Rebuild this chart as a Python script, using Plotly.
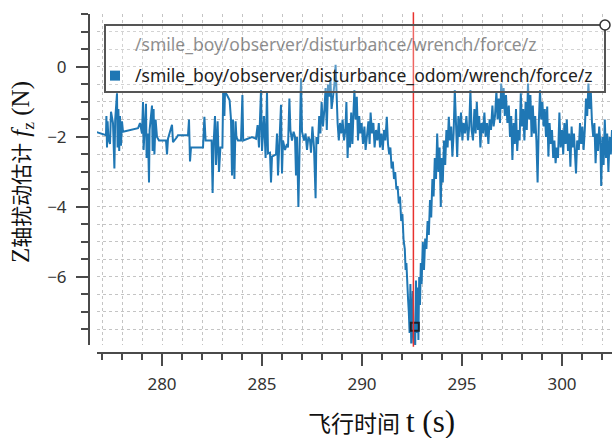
import plotly.graph_objects as go

# ---------------- data ----------------
t = [276.65, 276.66, 276.68, 277.20, 277.22, 277.25, 277.28, 277.32, 277.40, 277.45,
     277.50, 277.55, 277.62, 277.66, 277.75, 277.78, 277.82, 277.86, 277.90, 277.95,
     278.00, 278.05, 278.80, 278.90, 279.00, 279.05, 279.08, 279.12, 279.20, 279.23,
     279.30, 279.35, 279.38, 279.50, 279.53, 279.58, 279.62, 279.68, 279.75, 279.85,
     280.20, 280.25, 280.30, 280.50, 280.55, 280.75, 280.80, 281.30, 281.35, 281.40,
     281.45, 282.05, 282.12, 282.18, 282.48, 282.53, 282.58, 282.65, 282.70, 282.78,
     282.85, 282.92, 283.02, 283.06, 283.12, 283.15, 283.25, 283.38, 283.45, 283.50,
     283.55, 283.62, 283.68, 283.72, 283.80, 283.95, 284.02, 284.06, 284.50, 284.70,
     284.78, 284.85, 284.95, 285.00, 285.10, 285.18, 285.25, 285.30, 285.40, 285.45,
     285.50, 285.70, 285.75, 285.80, 285.85, 285.95, 286.00, 286.05, 286.15, 286.25,
     286.30, 286.37, 286.42, 286.50, 286.58, 286.65, 286.70, 286.75, 286.82, 286.88,
     286.95, 287.00, 287.10, 287.18, 287.25, 287.32, 287.40, 287.45, 287.52, 287.60,
     287.68, 287.72, 287.80, 287.86, 287.92, 287.98, 288.05, 288.12, 288.18, 288.24,
     288.30, 288.36, 288.42, 288.48, 288.55, 288.62, 288.68, 288.72, 288.78, 288.84,
     288.90, 288.97, 289.03, 289.10, 289.17, 289.22, 289.28, 289.34, 289.40, 289.46,
     289.52, 289.58, 289.62, 289.68, 289.74, 289.80, 289.86, 289.92, 289.98, 290.05,
     290.12, 290.18, 290.25, 290.32, 290.38, 290.43, 290.50, 290.57, 290.63, 290.70,
     290.77, 290.84, 290.90, 290.97, 291.04, 291.10, 291.17, 291.24, 291.30, 291.36,
     291.42, 291.48, 291.54, 291.60, 291.66, 291.72, 291.78, 291.84, 291.90, 291.96,
     292.02, 292.08, 292.14, 292.18, 292.22, 292.26, 292.30, 292.34, 292.38, 292.42,
     292.46, 292.50, 292.54, 292.58, 292.62, 292.66, 292.70, 292.74, 292.78, 292.82,
     292.86, 292.90, 292.94, 292.98, 293.04, 293.10, 293.16, 293.22, 293.28, 293.34,
     293.40, 293.46, 293.52, 293.58, 293.64, 293.70, 293.76, 293.82, 293.88, 293.94,
     293.98, 294.04, 294.10, 294.16, 294.22, 294.28, 294.34, 294.40, 294.46, 294.52,
     294.58, 294.64, 294.70, 294.76, 294.82, 294.88, 294.95, 295.02, 295.08, 295.15,
     295.22, 295.30, 295.36, 295.42, 295.48, 295.55, 295.62, 295.68, 295.74, 295.80,
     295.86, 295.92, 295.98, 296.05, 296.12, 296.18, 296.25, 296.32, 296.38, 296.45,
     296.52, 296.58, 296.65, 296.72, 296.78, 296.84, 296.90, 296.96, 297.02, 297.08,
     297.14, 297.20, 297.27, 297.34, 297.40, 297.46, 297.52, 297.58, 297.64, 297.70,
     297.76, 297.82, 297.88, 297.94, 298.00, 298.06, 298.12, 298.18, 298.24, 298.30,
     298.36, 298.42, 298.48, 298.54, 298.60, 298.66, 298.72, 298.78, 298.84, 298.90,
     298.96, 299.02, 299.08, 299.14, 299.20, 299.26, 299.32, 299.38, 299.44, 299.50,
     299.56, 299.62, 299.68, 299.74, 299.80, 299.87, 299.93, 300.00, 300.06, 300.12,
     300.18, 300.24, 300.30, 300.36, 300.42, 300.48, 300.54, 300.60, 300.66, 300.70,
     300.76, 300.84, 300.90, 300.96, 301.02, 301.08, 301.14, 301.20, 301.26, 301.32,
     301.38, 301.44, 301.50, 301.56, 301.62, 301.68, 301.74, 301.80, 301.86, 301.92,
     301.96, 302.02, 302.08, 302.14, 302.20, 302.26, 302.32, 302.38, 302.44, 302.50,
     302.56]

fz = [-1.20, -2.80, -1.85, -1.95, -1.40, -2.30, -1.55, -2.05, -2.20, -1.28,
      -1.45, -1.60, -2.90, -1.50, -0.75, -2.30, -1.20, -2.40, -1.40, -2.25,
      -1.55, -1.85, -1.75, -1.60, -1.90, -1.00, -2.37, -1.75, -1.05, -2.60,
      -1.90, -3.30, -1.80, -1.10, -2.40, -1.20, -2.50, -1.50, -2.00, -2.10,
      -2.10, -2.50, -2.05, -1.65, -2.15, -2.00, -1.95, -1.95, -1.50, -2.70,
      -2.30, -2.30, -1.42, -2.10, -2.10, -3.60, -2.20, -1.40, -2.80, -1.55,
      -3.00, -2.30, -2.30, -0.70, -1.40, -0.72, -0.80, -0.95, -1.50, -3.10,
      -1.50, -3.20, -1.55, -2.00, -2.10, -2.10, -0.80, -2.10, -2.00, -2.05,
      -1.66, -2.30, -0.66, -2.40, -1.40, -2.60, -0.70, -2.47, -2.45, -3.30,
      -2.56, -2.50, -1.90, -3.10, -2.40, -1.08, -3.04, -2.10, -2.37, -2.20,
      -2.30, -0.90, -1.80, -2.10, -1.85, -2.00, -3.10, -2.00, -4.00, -2.30,
      -0.32, -1.85, -2.10, -1.90, -2.37, -2.00, -2.10, -2.45, -1.70, -2.30,
      -3.75, -2.00, -2.20, -1.40, -1.90, -1.00, -1.70, -1.20, -0.60, -1.80,
      -0.50, -0.85, -0.37, -1.20, -0.80, -0.50, 0.06, -0.80, -1.60, -2.10,
      -1.60, -1.90, -1.50, -2.10, -1.80, -1.00, -2.60, -1.60, -2.30, -1.30,
      -2.20, -1.20, -0.66, -1.50, -0.85, -2.10, -1.40, -1.90, -1.60, -2.20,
      -1.70, -2.37, -1.90, -1.55, -2.20, -1.30, -1.90, -1.60, -2.30, -1.80,
      -2.10, -1.60, -2.30, -1.90, -2.37, -1.80, -2.10, -1.42, -2.20, -2.50,
      -2.30, -2.90, -2.70, -3.20, -3.00, -3.50, -3.40, -3.90, -3.70, -4.40,
      -4.20, -4.95, -5.20, -5.80, -5.60, -6.40, -6.60, -7.00, -7.60, -6.20,
      -7.90, -7.40, -6.40, -7.90, -7.30, -8.00, -6.10, -7.60, -6.30, -7.80,
      -6.00, -6.80, -5.60, -6.20, -5.00, -5.80, -4.90, -5.20, -4.40, -4.80,
      -3.80, -4.30, -3.20, -3.70, -2.60, -3.20, -1.90, -3.00, -2.30, -4.00,
      -2.60, -3.30, -2.10, -2.80, -1.80, -2.30, -1.42, -2.10, -1.70, -2.56,
      -1.90, -0.66, -1.60, -2.57, -1.40, -2.00, -1.30, -2.10, -1.60, -1.90,
      -1.40, -2.10, -1.70, -0.66, -1.80, -2.10, -1.20, -1.90, -1.00, -1.80,
      -1.40, -2.30, -1.60, -1.90, -1.30, -2.00, -1.60, -2.20, -1.50, -1.80,
      -1.10, -1.70, -1.40, -0.70, -1.50, -0.90, -1.60, -0.47, -1.20, -0.60,
      -1.40, -0.80, -1.60, -1.10, -2.00, -1.40, -2.66, -1.60, -2.20, -1.20,
      -2.40, -1.80, -2.10, -0.75, -1.70, -1.20, -2.10, -1.00, -1.80, -0.47,
      -1.50, -0.80, -2.00, -1.10, -1.90, -1.40, -2.10, -3.30, -1.60, -0.66,
      -1.50, -1.00, -1.70, -1.20, -2.00, -1.13, -2.56, -1.60, -2.20, -1.80,
      -2.60, -2.10, -2.75, -2.30, -2.60, -1.30, -2.30, -1.80, -2.50, -1.60,
      -2.20, -1.50, -2.40, -1.90, -2.85, -1.70, -2.30, -1.90, -2.60, -3.04,
      -2.10, -2.37, -1.60, -2.20, -1.70, -2.37, -1.80, -0.90, -1.40, -0.47,
      -1.20, -0.70, -1.60, -2.00, -1.60, -2.75, -1.90, -2.40, -1.70, -2.20,
      -3.40, -2.00, -2.80, -1.50, -2.60, -1.90, -3.00, -2.00, -2.50, -1.80,
      -2.40]

series_names = ["/smile_boy/observer/disturbance/wrench/force/z",
                "/smile_boy/observer/disturbance_odom/wrench/force/z"]
x_tick_vals = [280, 285, 290, 295, 300]
y_tick_vals = [-6, -4, -2, 0]
cursor_t = [292.57]
cursor_point_t = [292.64]
cursor_point_fz = [-7.42]

# ---------------- layout helpers (pixel -> paper) ----------------
W, H = 612, 438
ML, MR, MT, MB = 89, 0, 14, 85
PW, PH = W - ML - MR, H - MT - MB


def px(x):
    return (x - ML) / PW


def py(y):
    return (H - MB - y) / PH


BLUE = "#1f77b4"
AX = "#4a4a4a"
GRID = "#c4c4c4"
TICKFONT = dict(family="Noto Sans, Open Sans, sans-serif", size=17, color="#333333")

fig = go.Figure()

fig.add_trace(go.Scatter(x=t, y=fz, mode="lines", line=dict(color=BLUE, width=2),
                         showlegend=False, hoverinfo="skip"))
# legend entries
fig.add_trace(go.Scatter(x=[None], y=[None], mode="markers", name=series_names[0],
                         legendgroup="a",
                         marker=dict(color="rgba(0,0,0,0)", size=10, symbol="square"),
                         visible="legendonly"))
fig.add_trace(go.Scatter(x=[None], y=[None], mode="markers", name=series_names[1],
                         legendgroup="b",
                         marker=dict(color=BLUE, size=10, symbol="square")))
# cursor point
fig.add_trace(go.Scatter(x=cursor_point_t, y=cursor_point_fz, mode="markers",
                         marker=dict(symbol="square-open", size=8, color="#16222e",
                                     line=dict(width=2, color="#16222e")),
                         showlegend=False))

fig.add_shape(type="line", xref="x", yref="y domain", x0=cursor_t[0], x1=cursor_t[0],
              y0=-0.005, y1=1.005, line=dict(color="#e8322e", width=1.5))

# legend frame and handle
fig.add_shape(type="rect", xref="paper", yref="paper", x0=px(105), x1=px(605),
              y0=py(92), y1=py(25), line=dict(color="#555555", width=2),
              fillcolor="rgba(255,255,255,0.25)", layer="above")
fig.add_shape(type="circle", xref="paper", yref="paper", x0=px(600), x1=px(610),
              y0=py(30), y1=py(20), line=dict(color="#333333", width=1.5),
              fillcolor="white", layer="above")

fig.add_annotation(text="<span style='font-size:23px'>飞行时间</span>&nbsp;<span style='font-size:31px'>t (s)</span>",
                   xref="paper", yref="paper", x=px(381), y=py(421), showarrow=False,
                   font=dict(family="Liberation Serif, Noto Sans CJK SC, serif", size=24, color="#111111"),
                   xanchor="center", yanchor="middle")
fig.add_annotation(text="<span style='font-size:25px'>Z</span><span style='font-size:21px'>轴扰动估计</span> "
                        "<span style='font-size:25px'><i>f</i><sub>z</sub> (N)</span>",
                   xref="paper", yref="paper", x=px(22), y=py(172), showarrow=False,
                   textangle=-90,
                   font=dict(family="Liberation Serif, Noto Sans CJK SC, serif", size=24, color="#111111"),
                   xanchor="center", yanchor="middle")

fig.update_layout(
    width=W, height=H,
    margin=dict(l=ML, r=MR, t=MT, b=MB, pad=0),
    paper_bgcolor="white", plot_bgcolor="white",
    showlegend=True,
    legend=dict(x=px(95), y=py(26), xanchor="left", yanchor="top",
                bgcolor="rgba(0,0,0,0)", borderwidth=0, traceorder="grouped",
                font=dict(family="Noto Sans, Open Sans, sans-serif", size=17.5, color="#222222"),
                tracegroupgap=6, itemclick=False),
    xaxis=dict(range=[276.75, 302.5], domain=[8 / PW, 1], anchor="free", position=0,
               tickvals=x_tick_vals, ticks="outside", ticklen=12, tickwidth=2, tickcolor=AX,
               showline=True, linecolor=AX, linewidth=2, zeroline=False,
               showgrid=True, gridcolor=GRID, griddash="dot", gridwidth=1,
               tickfont=TICKFONT, ticklabelstandoff=4,
               minor=dict(dtick=1, tick0=0, ticks="outside", ticklen=6, tickwidth=1.5,
                          tickcolor=AX, showgrid=True, gridcolor=GRID, griddash="dot",
                          gridwidth=1)),
    yaxis=dict(range=[-7.943, 1.514], domain=[8 / PH, 1], anchor="free", position=0,
               tickvals=y_tick_vals, ticks="outside", ticklen=12, tickwidth=2, tickcolor=AX,
               showline=True, linecolor=AX, linewidth=2, zeroline=False,
               showgrid=True, gridcolor=GRID, griddash="dot", gridwidth=1,
               tickfont=TICKFONT, ticklabelstandoff=6,
               minor=dict(dtick=0.5, tick0=0, ticks="outside", ticklen=7, tickwidth=1.5,
                          tickcolor=AX, showgrid=True, gridcolor=GRID, griddash="dot",
                          gridwidth=1)),
)

fig.write_html("out.html")
